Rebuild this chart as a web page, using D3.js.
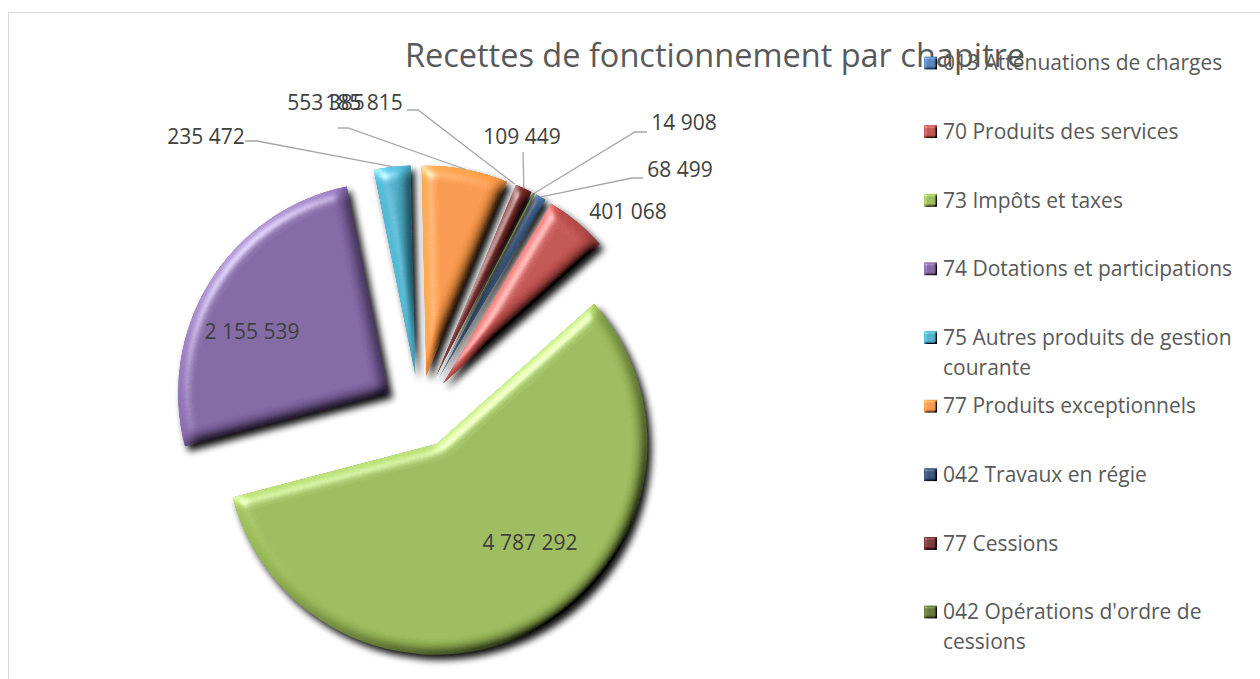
<!DOCTYPE html>
<html>
<head>
<meta charset="utf-8">
<script src="https://cdn.jsdelivr.net/npm/d3@7"></script>
<style>
  body { margin: 0; background: #fff; }
  svg text { font-family: "Open Sans", sans-serif; }
</style>
</head>
<body>
<svg id="chart"></svg>
<script>
// chapitres, dans l'ordre de la feuille
const categories = [
  '013 Atténuations de charges',
  '70 Produits des services',
  '73 Impôts et taxes',
  '74 Dotations et participations',
  '75 Autres produits de gestion courante',
  '77 Produits exceptionnels',
  '042 Travaux en régie',
  '77 Cessions',
  "042 Opérations d'ordre de cessions"
];
// 042 Travaux en régie est saisi en texte : l'étiquette l'affiche, le secteur vaut 0
const values = [68499, 401068, 4787292, 2155539, 235472, 553385, '185 815', 109449, 14908];
const colors = ['#4f81bd', '#c0504d', '#9bbb59', '#8064a2', '#4bacc6', '#f79646', '#2c4d75', '#772c2a', '#5f7530'];

const title = 'Recettes de fonctionnement par chapitre';

let width = 1260, height = 679;
let cx = 419.5, cy = 412, radius = 211, explode = 36;
let firstAngle = 28; // angle du premier secteur, en degrés

// étiquettes déplacées à la main (centre du texte) et départ des lignes de rappel
let labelPos = [[680, 170], [628, 212], [530, 543], [252, 332], [206, 137], [326, 103], [364, 103], [522, 137], [684, 123]];
let leaderStart = [[643, 178], null, null, null, [245, 141], [338, 128], [407, 110], [523, 152], [647, 132]];
let leaderElbow = [[632, 178], null, null, null, [257, 141], [348, 128], [418, 110], [523, 152], [635, 132]];

let svg = d3.select('#chart')
            .attr('width', width)
            .attr('height', height);

let defs = svg.append('defs');

function bevel(id, blur, scale, shadow) {
  let f = defs.append('filter')
              .attr('id', id)
              .attr('x', '-20%').attr('y', '-20%')
              .attr('width', '140%').attr('height', '140%');
  f.append('feGaussianBlur').attr('in', 'SourceAlpha').attr('stdDeviation', blur).attr('result', 'blur');
  f.append('feDiffuseLighting')
    .attr('in', 'blur').attr('surfaceScale', scale).attr('diffuseConstant', 1)
    .attr('lighting-color', '#fff').attr('result', 'diff')
    .append('feDistantLight').attr('azimuth', 225).attr('elevation', 40);
  f.append('feComposite')
    .attr('in', 'SourceGraphic').attr('in2', 'diff').attr('operator', 'arithmetic')
    .attr('k1', 1.55).attr('k2', 0).attr('k3', 0).attr('k4', 0).attr('result', 'lit');
  f.append('feSpecularLighting')
    .attr('in', 'blur').attr('surfaceScale', scale).attr('specularConstant', 0.45)
    .attr('specularExponent', 30).attr('lighting-color', '#fff').attr('result', 'spec')
    .append('feDistantLight').attr('azimuth', 225).attr('elevation', 40);
  f.append('feComposite').attr('in', 'spec').attr('in2', 'SourceAlpha').attr('operator', 'in').attr('result', 'specIn');
  f.append('feComposite')
    .attr('in', 'lit').attr('in2', 'specIn').attr('operator', 'arithmetic')
    .attr('k1', 0).attr('k2', 1).attr('k3', 1).attr('k4', 0).attr('result', 'shade');
  f.append('feComposite').attr('in', 'shade').attr('in2', 'SourceAlpha').attr('operator', 'in').attr('result', 'body');
  let merge;
  if (shadow) {
    f.append('feGaussianBlur').attr('in', 'SourceAlpha').attr('stdDeviation', shadow).attr('result', 'sblur');
    f.append('feOffset').attr('in', 'sblur').attr('dx', 4).attr('dy', 5).attr('result', 'soff');
    f.append('feComponentTransfer').attr('in', 'soff').attr('result', 'sfade')
      .append('feFuncA').attr('type', 'linear').attr('slope', 0.95);
    merge = f.append('feMerge');
    merge.append('feMergeNode').attr('in', 'sfade');
  } else {
    merge = f.append('feMerge');
  }
  merge.append('feMergeNode').attr('in', 'body');
}
bevel('bevel', 6.5, 7, 3.5);
bevel('bevelSmall', 1.2, 2, 0);

// cadre du graphique
svg.append('rect')
  .attr('x', 8.5).attr('y', 12.5)
  .attr('width', 1300).attr('height', 700)
  .attr('fill', 'none').attr('stroke', '#d9d9d9');

// titre
svg.append('text')
  .attr('x', 715).attr('y', 67)
  .attr('text-anchor', 'middle')
  .attr('font-size', 32.5)
  .attr('fill', '#595959')
  .text(title);

let rows = categories.map((c, i) => ({ name: c, value: values[i], color: colors[i], i: i }));

let pie = d3.pie()
            .sort(null)
            .value(d => typeof d.value === 'number' ? d.value : 0)
            .startAngle(firstAngle * Math.PI / 180)
            .endAngle(firstAngle * Math.PI / 180 + 2 * Math.PI);

let arcs = pie(rows);
let arc = d3.arc().innerRadius(0).outerRadius(radius);

function offset(d, r) {
  let a = (d.startAngle + d.endAngle) / 2;
  return [cx + r * Math.sin(a), cy - r * Math.cos(a)];
}

let slicesGp = svg.append('g').classed('slices', true);

slicesGp.selectAll('path')
  .data(arcs.filter(d => d.endAngle > d.startAngle))
  .enter()
  .append('path')
    .attr('transform', d => {
      let p = offset(d, explode);
      return `translate(${p[0]},${p[1]})`;
    })
    .attr('d', arc)
    .attr('fill', d => d.data.color)
    .attr('filter', 'url(#bevel)');

// lignes de rappel
let linesGp = svg.append('g').classed('leaders', true);
arcs.forEach(d => {
  let i = d.data.i;
  if (!leaderStart[i]) return;
  let end = offset(d, explode + radius);
  linesGp.append('polyline')
    .attr('points', [leaderStart[i], leaderElbow[i], end].map(p => p.join(',')).join(' '))
    .attr('fill', 'none')
    .attr('stroke', '#a6a6a6')
    .attr('stroke-width', 1.3);
});

// étiquettes de données
let fmt = v => typeof v === 'number' ? d3.format(',')(v).replace(/,/g, ' ') : v;

svg.append('g').classed('labels', true)
  .selectAll('text')
  .data(rows)
  .enter()
  .append('text')
    .attr('x', d => labelPos[d.i][0])
    .attr('y', d => labelPos[d.i][1])
    .attr('dy', '0.35em')
    .attr('text-anchor', 'middle')
    .attr('font-size', 21)
    .attr('fill', '#404040')
    .text(d => fmt(d.value));

// légende
let legendY = d3.scaleLinear().domain([0, categories.length - 1]).range([63, 612]);
let legendGp = svg.append('g').classed('legend', true);

let items = legendGp.selectAll('g')
  .data(rows)
  .enter()
  .append('g')
    .attr('transform', d => `translate(924,${legendY(d.i)})`);

items.append('rect')
  .attr('x', 0).attr('y', -6.5)
  .attr('width', 13).attr('height', 13)
  .attr('fill', d => d.color)
  .attr('filter', 'url(#bevelSmall)');

items.each(function(d) {
  let t = d3.select(this).append('text')
            .attr('x', 19)
            .attr('y', 0)
            .attr('dy', '0.35em')
            .attr('font-size', 21)
            .attr('fill', '#595959');
  let words = d.name.split(' ');
  let line = [];
  let tspan = t.append('tspan').attr('x', 19);
  words.forEach(w => {
    line.push(w);
    tspan.text(line.join(' '));
    if (tspan.node().getComputedTextLength() > 300 && line.length > 1) {
      line.pop();
      tspan.text(line.join(' '));
      line = [w];
      tspan = t.append('tspan').attr('x', 19).attr('dy', 30).text(w);
    }
  });
});
</script>
</body>
</html>
